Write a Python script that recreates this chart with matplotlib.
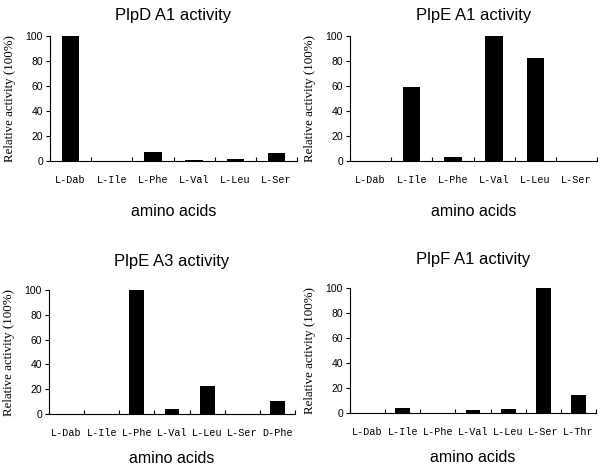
import numpy as np
import matplotlib
matplotlib.use("Agg")
import matplotlib.pyplot as plt

# ============================================================
# DATA (relative activity, %)
# ============================================================
titles = ["PlpD A1 activity", "PlpE A1 activity", "PlpE A3 activity", "PlpF A1 activity"]

plpd_a1_labels = ["L-Dab", "L-Ile", "L-Phe", "L-Val", "L-Leu", "L-Ser"]
plpd_a1_values = [100, 0, 7.3, 1, 2, 6.1]

plpe_a1_labels = ["L-Dab", "L-Ile", "L-Phe", "L-Val", "L-Leu", "L-Ser"]
plpe_a1_values = [0, 59.3, 3.2, 100, 82.3, 0]

plpe_a3_labels = ["L-Dab", "L-Ile", "L-Phe", "L-Val", "L-Leu", "L-Ser", "D-Phe"]
plpe_a3_values = [0, 0, 100, 4, 22.8, 0, 10.2]

plpf_a1_labels = ["L-Dab", "L-Ile", "L-Phe", "L-Val", "L-Leu", "L-Ser", "L-Thr"]
plpf_a1_values = [0, 4, 0, 2.1, 3.2, 100, 14.1]

panels = [
    (plpd_a1_labels, plpd_a1_values),
    (plpe_a1_labels, plpe_a1_values),
    (plpe_a3_labels, plpe_a3_values),
    (plpf_a1_labels, plpf_a1_values),
]

# axes boxes in pixels: left, right, top, bottom
W, H = 600, 468
boxes = [(50, 297, 36, 161), (350, 597, 36, 161),
         (49, 295, 290, 414), (350, 596, 288, 413)]
title_pads = [11.5, 11.5, 17, 17]
xlabel_pads = [14, 14, 9.5, 9.5]

fig = plt.figure(figsize=(W / 100, H / 100), dpi=100)

for i, ((labels, values), (l, r, t, b)) in enumerate(zip(panels, boxes)):
    ax = fig.add_axes([l / W, 1 - b / H, (r - l) / W, (b - t) / H])
    n = len(labels)
    x = np.arange(n)
    ax.bar(x, values, width=0.42, color="black")

    ax.set_xlim(-0.5, n - 0.5)
    ax.set_ylim(0, 100)
    ax.set_yticks([0, 20, 40, 60, 80, 100])

    ax.set_xticks(x)
    ax.set_xticklabels(labels, fontfamily="Liberation Mono", fontsize=7.3)
    ax.set_xticks(np.arange(n + 1) - 0.5, minor=True)
    ax.tick_params(axis="x", which="major", length=0, pad=10)
    ax.tick_params(axis="x", which="minor", direction="in", length=3, width=0.8)
    ax.tick_params(axis="y", direction="out", length=3, width=0.8, labelsize=7.5, pad=2)
    for lab in ax.get_yticklabels():
        lab.set_fontfamily("Liberation Sans")

    for side in ["top", "right"]:
        ax.spines[side].set_visible(False)
    for side in ["left", "bottom"]:
        ax.spines[side].set_linewidth(0.8)

    ax.set_title(titles[i], fontfamily="Liberation Sans", fontsize=12, pad=title_pads[i])
    ax.set_xlabel("amino acids", fontfamily="Liberation Sans", fontsize=11.5,
                  labelpad=xlabel_pads[i])
    ax.set_ylabel("Relative activity (100%)", fontfamily="Liberation Serif", fontsize=9.3)
    ax.yaxis.set_label_coords(-34 / (r - l), 0.5)

plt.savefig("out.png", dpi=100)
